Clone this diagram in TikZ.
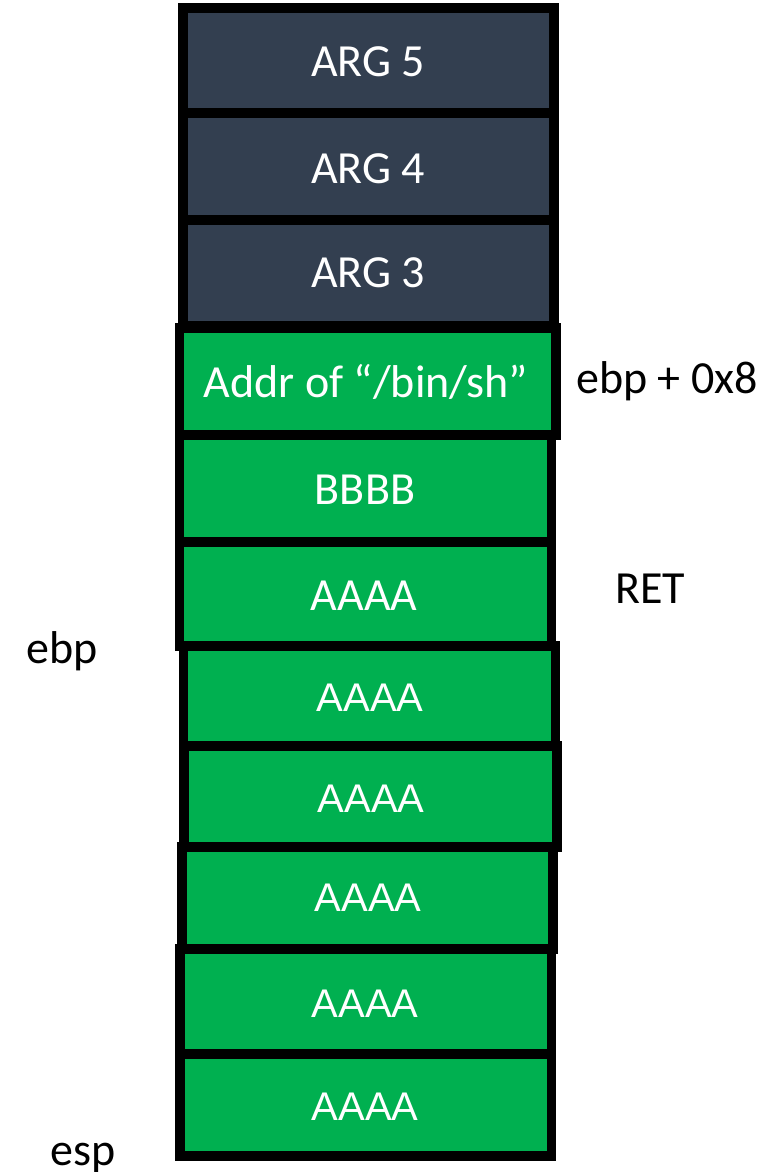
\documentclass[tikz,border=0pt]{standalone}
\usepackage{fontspec}
\setmainfont{Carlito}
\newfontfamily\arialfont{Liberation Sans}
\usetikzlibrary{positioning}
\definecolor{argblue}{HTML}{333F50}
\definecolor{padgreen}{HTML}{00B050}
\tikzstyle{argslot}=[draw=black, fill=argblue, line width=6.8pt]
\tikzstyle{padslot}=[draw=black, fill=padgreen, line width=6.8pt]
\tikzstyle{slottext}=[text=white, inner sep=0pt, anchor=base, font=\fontsize{34.5}{40}\selectfont]
\tikzstyle{fillertext}=[text=white, inner sep=0pt, anchor=base, font=\arialfont\fontsize{30}{36}\selectfont]
\tikzstyle{reglabel}=[text=black, inner sep=0pt, anchor=base west, font=\fontsize{34.5}{40}\selectfont]

\begin{document}
\begin{tikzpicture}[x=0.75pt, y=-0.75pt]
            \useasboundingbox (0,0) rectangle (776,1172);

            % arguments above the frame
            \begin{scope}[every path/.style={argslot}]
                \path (183,8) rectangle (554,113);
                \path (183,113) rectangle (554,220);
                \path (183,220) rectangle (554,326);
            \end{scope}

            % overflowed part of the stack
            \begin{scope}[every path/.style={padslot}]
                \path (179.5,328) rectangle (556,435);
                \path (179.5,435) rectangle (551.5,542);
                \path (179.5,542) rectangle (551.5,646);
                \path (183.5,646) rectangle (555.5,746);
                \path (184,746) rectangle (557,847);
                \path (182,847) rectangle (553,949);
                \path (180,949) rectangle (551.5,1054);
                \path (180,1054) rectangle (551.5,1156);
            \end{scope}

            \begin{scope}[every node/.style={slottext}]
                \node (arg5) at (368,76) {ARG 5};
                \node (arg4) at (368,183) {ARG 4};
                \node (arg3) at (368,287) {ARG 3};
                \node (binsh) at (366,397) {Addr of “/bin/sh”};
                \node (fake) at (365,504) {BBBB};
                \node (pad1) at (364,610) {AAAA};
            \end{scope}

            \begin{scope}[every node/.style={fillertext}]
                \node (pad2) at (370,711) {AAAA};
                \node (pad3) at (371,812) {AAAA};
                \node (pad4) at (368,911) {AAAA};
                \node (pad5) at (365,1017) {AAAA};
                \node (pad6) at (365,1120) {AAAA};
            \end{scope}

            \begin{scope}[every node/.style={reglabel}]
                \node (ebp8) at (576,393) {ebp + 0x8};
                \node (ret) at (615,603) {RET};
                \node (ebp) at (26,663) {ebp};
                \node (esp) at (50,1165) {esp};
            \end{scope}
        \end{tikzpicture}
\end{document}
